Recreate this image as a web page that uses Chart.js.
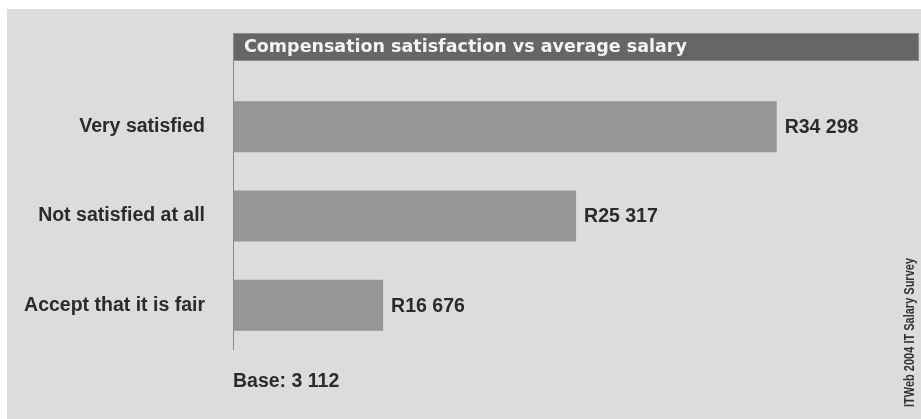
<!DOCTYPE html>
<html>
<head>
<meta charset="utf-8">
<script src="https://cdn.jsdelivr.net/npm/chart.js@4/dist/chart.umd.min.js"></script>
<style>
  html, body { margin: 0; padding: 0; background: #ffffff; }
  #wrap { position: relative; width: 921px; height: 419px; }
  canvas { display: block; }
</style>
</head>
<body>
<div id="wrap"><canvas id="c" width="921" height="419"></canvas></div>
<script>
// ---- data ----
const categories = ["Very satisfied", "Not satisfied at all", "Accept that it is fair"];
const salaries = [34298, 25317, 16676];
const chartTitle = "Compensation satisfaction vs average salary";
const baseCount = 3112;
const sourceNote = "ITWeb 2004 IT Salary Survey";
const axisMin = 10000;
const axisMax = 40000;

function fmt(n) {
  return String(n).replace(/\B(?=(\d{3})+(?!\d))/g, " ");
}

const decor = {
  id: "decor",
  beforeDraw(chart) {
    const ctx = chart.ctx;
    const ca = chart.chartArea;
    ctx.save();
    // grey panel
    ctx.fillStyle = "#dcdcdc";
    ctx.fillRect(7, 9, 914, 410);
    // title bar
    ctx.fillStyle = "#666666";
    ctx.fillRect(ca.left - 1, 33, 919 - (ca.left - 1), 28);
    ctx.strokeStyle = "#8c8c8c";
    ctx.lineWidth = 1;
    ctx.strokeRect(ca.left - 0.5, 33.5, 919 - ca.left, 27);
    ctx.fillStyle = "#f4f4f4";
    ctx.font = "bold 17.5px 'DejaVu Sans'";
    ctx.textBaseline = "middle";
    ctx.textAlign = "left";
    ctx.fillText(chartTitle, ca.left + 10, 47);
    ctx.restore();
  },
  afterDatasetsDraw(chart) {
    const ctx = chart.ctx;
    const ca = chart.chartArea;
    ctx.save();
    // axis line
    ctx.strokeStyle = "#8a8a8a";
    ctx.lineWidth = 1;
    ctx.beginPath();
    ctx.moveTo(ca.left - 0.5, 61);
    ctx.lineTo(ca.left - 0.5, ca.bottom);
    ctx.stroke();
    // value labels
    ctx.fillStyle = "#2b2b2b";
    ctx.font = "bold 19.5px 'Liberation Sans'";
    ctx.textBaseline = "middle";
    ctx.textAlign = "left";
    const meta = chart.getDatasetMeta(0);
    meta.data.forEach((bar, i) => {
      ctx.fillText("R" + fmt(salaries[i]), bar.x + 8, bar.y + 1);
    });
    // base
    ctx.fillText("Base: " + fmt(baseCount), ca.left - 1, 382);
    // source note (rotated, condensed)
    ctx.font = "bold 15px 'Liberation Sans'";
    const w = ctx.measureText(sourceNote).width;
    ctx.translate(910, 407);
    ctx.rotate(-Math.PI / 2);
    ctx.scale(149 / w, 1);
    ctx.fillStyle = "#333333";
    ctx.textAlign = "left";
    ctx.textBaseline = "middle";
    ctx.fillText(sourceNote, 0, 0);
    ctx.restore();
  }
};

new Chart(document.getElementById("c"), {
  type: "bar",
  data: {
    labels: categories,
    datasets: [{
      data: salaries,
      backgroundColor: "#969696",
      borderWidth: 0,
      barPercentage: 0.57,
      categoryPercentage: 1.0
    }]
  },
  options: {
    indexAxis: "y",
    responsive: false,
    animation: false,
    events: [],
    layout: { padding: { left: 0, top: 82, right: 17, bottom: 69 } },
    plugins: { legend: { display: false }, title: { display: false }, tooltip: { enabled: false } },
    scales: {
      x: {
        display: false,
        min: axisMin,
        max: axisMax
      },
      y: {
        offset: true,
        grid: { display: false },
        border: { display: false },
        ticks: {
          color: "#2b2b2b",
          font: { family: "'Liberation Sans'", weight: "bold", size: 19.5 },
          padding: 21
        },
        afterFit(scale) { scale.width = 234; }
      }
    }
  },
  plugins: [decor]
});
</script>
</body>
</html>
